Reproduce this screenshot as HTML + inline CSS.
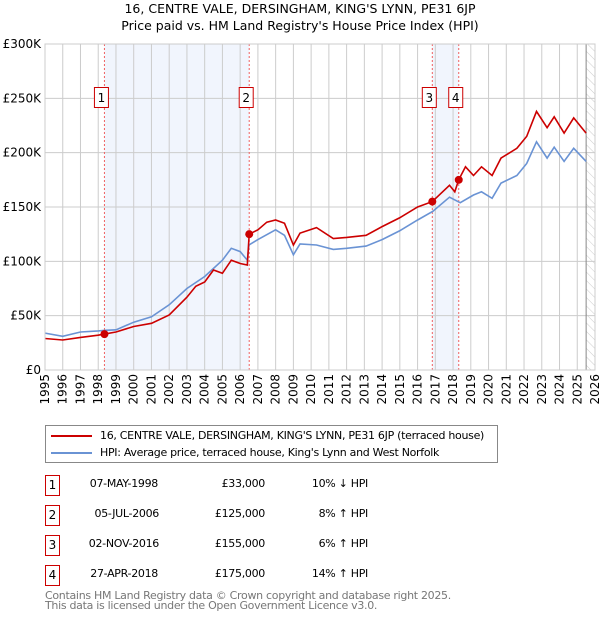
<!DOCTYPE html>
<html><head><meta charset="utf-8">
<style>
body{margin:0;background:#fff;font-family:"DejaVu Sans","Liberation Sans",sans-serif;}
#wrap{position:relative;width:600px;height:620px;overflow:hidden;}
.t{position:absolute;font-size:11px;letter-spacing:-0.3px;color:#000;white-space:nowrap;}
.nb{position:absolute;left:45px;width:13px;height:19px;border:1px solid #c00;font-size:12px;text-align:center;line-height:19px;}
</style></head><body>
<div id="wrap">
<div class="t" style="left:0;width:600px;text-align:center;top:1px;font-size:12.5px;letter-spacing:0;">16, CENTRE VALE, DERSINGHAM, KING'S LYNN, PE31 6JP</div>
<div class="t" style="left:0;width:600px;text-align:center;top:18px;font-size:12.5px;letter-spacing:0;">Price paid vs. HM Land Registry's House Price Index (HPI)</div>
<svg id="chart" width="600" height="420" style="position:absolute;left:0;top:0" font-family="DejaVu Sans, Liberation Sans, sans-serif" font-size="12"></svg>

<div style="position:absolute;left:45px;top:425px;width:451px;height:36px;border:1px solid #888;">
 <div><div style="position:absolute;left:5px;top:9px;width:41px;height:2px;background:#c00"></div><div class="t" style="left:54px;top:3px;">16, CENTRE VALE, DERSINGHAM, KING'S LYNN, PE31 6JP (terraced house)</div></div>
 <div><div style="position:absolute;left:5px;top:26px;width:41px;height:2px;background:#6a93d4"></div><div class="t" style="left:54px;top:20px;">HPI: Average price, terraced house, King's Lynn and West Norfolk</div></div>
</div>

<div>
 <div><div class="nb" style="top:475px">1</div><div class="t" style="right:442px;top:477px">07-MAY-1998</div><div class="t" style="right:335px;top:477px">£33,000</div><div class="t" style="right:232px;top:477px">10% ↓ HPI</div></div>
 <div><div class="nb" style="top:505px">2</div><div class="t" style="right:441px;top:507px">05-JUL-2006</div><div class="t" style="right:335px;top:507px">£125,000</div><div class="t" style="right:232px;top:507px">8% ↑ HPI</div></div>
 <div><div class="nb" style="top:535px">3</div><div class="t" style="right:441px;top:537px">02-NOV-2016</div><div class="t" style="right:335px;top:537px">£155,000</div><div class="t" style="right:232px;top:537px">6% ↑ HPI</div></div>
 <div><div class="nb" style="top:565px">4</div><div class="t" style="right:442px;top:567px">27-APR-2018</div><div class="t" style="right:335px;top:567px">£175,000</div><div class="t" style="right:232px;top:567px">14% ↑ HPI</div></div>
</div>
<div class="t" style="left:45px;top:589px;color:#777;">Contains HM Land Registry data © Crown copyright and database right 2025.</div>
<div class="t" style="left:45px;top:599px;color:#777;">This data is licensed under the Open Government Licence v3.0.</div>
</div>
<script>
const hpiYears=[1995,1996,1997,1998,1998.4,1999,2000,2001,2002,2003,2004,2005,2005.5,2006,2006.4,2006.5,2007,2008,2008.5,2009,2009.37,2010.3,2011.25,2012,2013.1,2014,2014.98,2016,2016.86,2017.8,2018.4,2019.15,2019.6,2020.2,2020.7,2021.6,2022.15,2022.7,2023.3,2023.7,2024.26,2024.8,2025.5];
const hpiValues=[34,31,35,36,36.5,37,44,49,60,75,86,101,112,109,101,115,120,129,124,106,116,115,111,112,114,120,128,138,146,159,154,161,164,158,172,179,190,210,195,205,192,204,192];
const priceYears=[1995,1996,1997,1998,1998.35,1999,2000,2001,2002,2003,2003.5,2004,2004.5,2005,2005.5,2006,2006.4,2006.51,2007,2007.5,2008,2008.5,2009,2009.37,2010.3,2011.25,2012,2013.1,2014,2014.98,2016,2016.83,2017.8,2018.1,2018.32,2018.7,2019.15,2019.6,2020.2,2020.7,2021.6,2022.15,2022.7,2023.3,2023.7,2024.26,2024.8,2025.5];
const priceValues=[29,27.6,30,32,33,35,40,43,50.6,67,77,81,92,89,101,98,96.6,125,129,136,138,135,115,126,131,121,122,124,132,140,150,155,170,164,175,187,179,187,179,195,204,215,238,223,233,218,232,218];
const saleLabels=["1","2","3","4"];
const saleYears=[1998.35,2006.51,2016.83,2018.32];
const salePrices=[33,125,155,175];
const yTicks=[0,50,100,150,200,250,300];
const yTickLabels=["£0","£50K","£100K","£150K","£200K","£250K","£300K"];
const xTicks=[1995,1996,1997,1998,1999,2000,2001,2002,2003,2004,2005,2006,2007,2008,2009,2010,2011,2012,2013,2014,2015,2016,2017,2018,2019,2020,2021,2022,2023,2024,2025,2026];

const NS="http://www.w3.org/2000/svg";
const svg=document.getElementById('chart');
const L=45,R=595,T=44,B=370;
const x=y=>L+(y-1995)*(R-L)/31;
const yv=v=>B-v*(B-T)/300;
function mk(tag,attrs,parent){const e=document.createElementNS(NS,tag);for(const k in attrs)e.setAttribute(k,attrs[k]);(parent||svg).appendChild(e);return e;}

const defs=mk('defs',{});
const pat=mk('pattern',{id:'hatch',width:6,height:6,patternUnits:'userSpaceOnUse',patternTransform:'rotate(-45)'},defs);
mk('line',{x1:0,y1:0,x2:0,y2:6,stroke:'#ccc','stroke-width':1},pat);

for(let i=0;i<saleYears.length;i+=2){
 const r=mk('rect',{x:x(saleYears[i]),y:T,width:x(saleYears[i+1])-x(saleYears[i]),height:B-T,fill:'#eef3fc',opacity:0.8});
 
 
}
const hx=x(2025.5);
const hr=mk('rect',{x:hx,y:T,width:R-hx,height:B-T,fill:'url(#hatch)'});



yTicks.forEach((v,i)=>{
 const g=mk('line',{x1:L,x2:R,y1:yv(v),y2:yv(v),stroke:'#ccc','stroke-width':1});
 
 
 const t=mk('text',{x:L-4,y:yv(v)+4,'text-anchor':'end',fill:'#000'});
 t.textContent=yTickLabels[i];
 
 
});
xTicks.forEach(yr=>{
 const g=mk('line',{x1:x(yr),x2:x(yr),y1:T,y2:B,stroke:'#ccc','stroke-width':1});
 
 
 const t=mk('text',{x:0,y:0,'text-anchor':'end',fill:'#000',transform:`translate(${x(yr)+4},${B+4}) rotate(-90)`});
 t.textContent=yr;
 
 
});
const hl=mk('line',{x1:hx,x2:hx,y1:T,y2:B,stroke:'#888','stroke-width':1});



saleYears.forEach(s=>{
 const l=mk('line',{x1:x(s),x2:x(s),y1:T,y2:B,stroke:'#f06060','stroke-width':1,'stroke-dasharray':'2,2'});
 
 
});

function path(xs,vs){return xs.map((a,i)=>(i?'L':'M')+x(a).toFixed(1)+','+yv(vs[i]).toFixed(1)).join(' ');}
const hp=mk('path',{d:path(hpiYears,hpiValues),fill:'none',stroke:'#6a93d4','stroke-width':1.6});


const pp=mk('path',{d:path(priceYears,priceValues),fill:'none',stroke:'#cc0000','stroke-width':1.6});



saleYears.forEach((s,i)=>{
 const c=mk('circle',{cx:x(s),cy:yv(salePrices[i]),r:4,fill:'#cc0000'});
 
 
 const bx=x(s)-3;
 const g=mk('g',{});
 
 
 mk('rect',{x:bx-7,y:87.5,width:14,height:20,fill:'#fff',stroke:'#c00','stroke-width':1},g);
 const t=mk('text',{x:bx,y:102,'text-anchor':'middle',fill:'#000'},g);
 t.textContent=saleLabels[i];
});
const f=mk('rect',{x:L,y:T,width:R-L,height:B-T,fill:'none',stroke:'#ccc','stroke-width':1});


</script>
</body></html>
